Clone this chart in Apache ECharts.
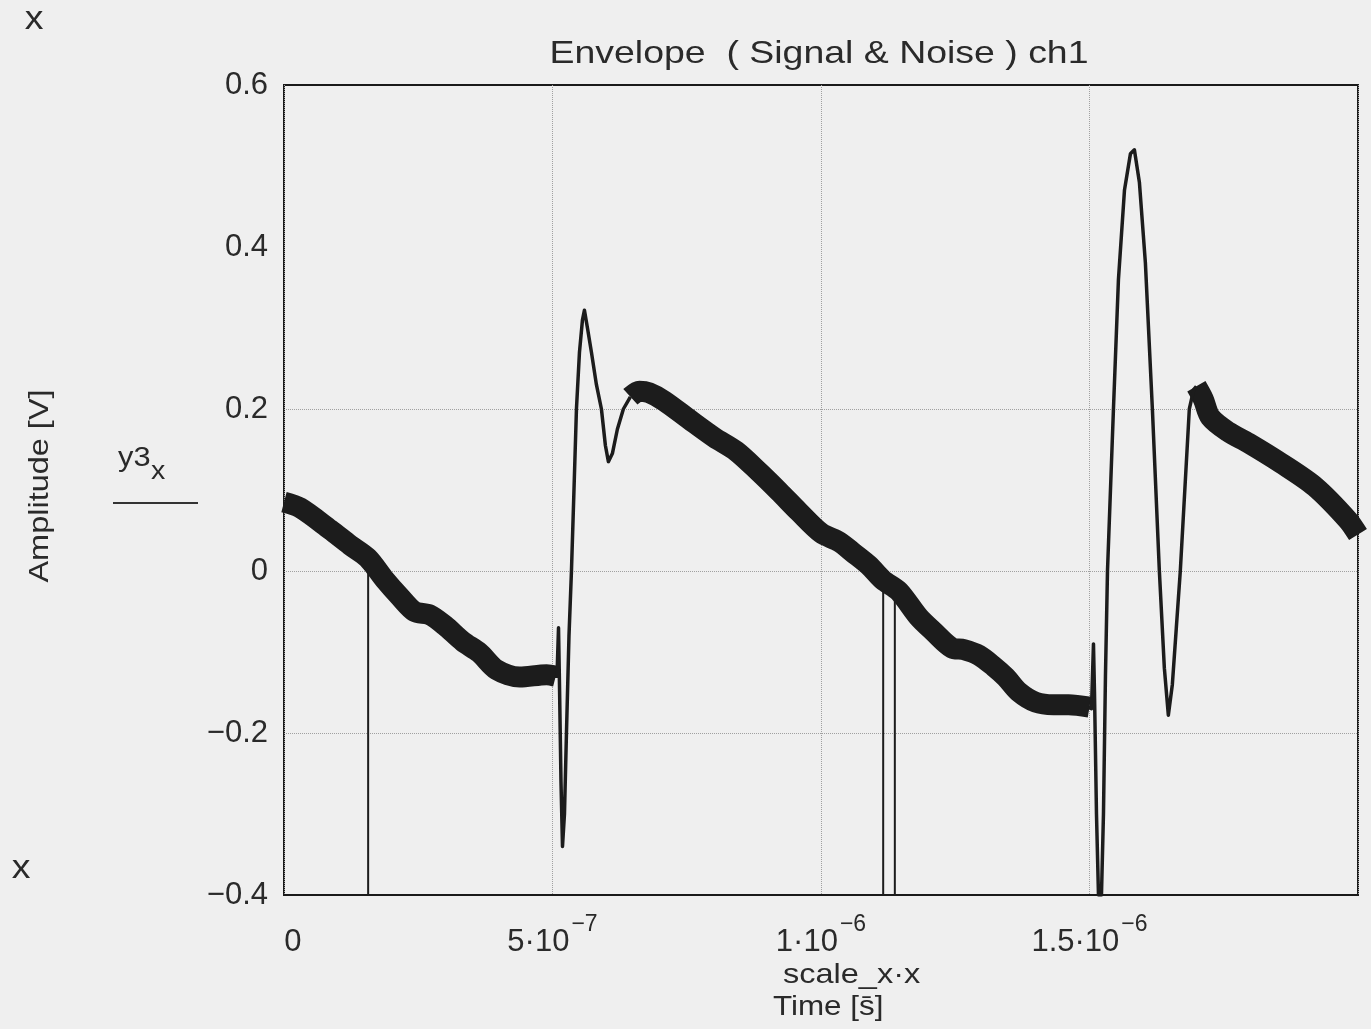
<!DOCTYPE html>
<html>
<head>
<meta charset="utf-8">
<title>Envelope ch1</title>
<script src="https://cdn.jsdelivr.net/npm/echarts/dist/echarts.min.js"></script>
<style>
html,body{margin:0;padding:0;background:#efefef;}
#main{width:1371px;height:1029px;}
</style>
</head>
<body>
<div id="main"></div>
<script>
// time in ns, amplitude in V
// noisy parts of the trace (drawn as a thick band)
var seg1_t = [0, 30, 86, 123, 156, 188, 216, 243, 271, 299, 333, 364, 396, 439, 489, 506];
var seg1_v = [0.085, 0.078, 0.051, 0.032, 0.016, -0.011, -0.032, -0.05, -0.054, -0.067, -0.087, -0.101, -0.122, -0.131, -0.128, -0.13];

var seg2_t = [645, 662, 680, 708, 755, 801, 842, 885, 922, 959, 1000, 1034, 1061, 1089, 1115, 1145, 1182, 1210, 1244, 1266, 1294, 1322, 1344, 1368, 1400, 1433, 1461, 1500];
var seg2_v = [0.215, 0.222, 0.22, 0.21, 0.187, 0.165, 0.148, 0.122, 0.098, 0.073, 0.047, 0.036, 0.022, 0.007, -0.011, -0.025, -0.057, -0.075, -0.095, -0.097, -0.104, -0.118, -0.131, -0.149, -0.162, -0.165, -0.165, -0.168];

var seg3_t = [1699, 1712, 1725, 1758, 1796, 1857, 1920, 1981, 2000];
var seg3_v = [0.228, 0.212, 0.19, 0.172, 0.158, 0.133, 0.104, 0.063, 0.045];

// fast transients (thin line)
var ev1_t = [504, 508.4, 511.2, 513, 515.8, 518.6, 522.3, 526, 530.7, 535.3, 540, 544.6, 550.2, 555.8, 559.5, 565.1, 572.5, 581.8, 591.1, 598.5, 604.1, 611.5, 620.8, 632, 645];
var ev1_v = [-0.13, -0.13, -0.07, -0.14, -0.26, -0.34, -0.3, -0.2, -0.08, 0, 0.1, 0.2, 0.27, 0.31, 0.322, 0.3, 0.27, 0.23, 0.2, 0.155, 0.135, 0.145, 0.175, 0.2, 0.215];

var ev2_t = [1498, 1503.7, 1507.4, 1509.3, 1513, 1516.7, 1522.3, 1526, 1529.7, 1533.5, 1544.6, 1553.9, 1565.1, 1576.2, 1583.6, 1592.9, 1604.1, 1617.1, 1630.1, 1639.4, 1646.8, 1654.3, 1661.7, 1669.1, 1685.9, 1694, 1699];
var ev2_v = [-0.168, -0.17, -0.09, -0.15, -0.3, -0.4, -0.4, -0.3, -0.13, 0, 0.2, 0.36, 0.47, 0.515, 0.52, 0.48, 0.38, 0.2, 0, -0.12, -0.178, -0.14, -0.07, 0, 0.2, 0.224, 0.228];

// single-sample dropouts down to the bottom of the range
var drop_t = [156.7, 1115.8, 1137.5];
var drop_top = [0.016, -0.011, -0.022];
var drop_bottom = -0.4;

var x_ticks = [0, 500, 1000, 1500];
var x_base = ['0', '5\u00b710', '1\u00b710', '1.5\u00b710'];
var x_exp = ['', '\u22127', '\u22126', '\u22126'];

var ink = '#1c1c1c';
var txt = '#2a2a2a';
var font = 'Liberation Sans, Arial, sans-serif';

function pairs(t, v){
	var out = [];
	for(var i=0;i<t.length;i++){
		out.push([t[i], v[i]]);
	}
	return out;
}

var series = [];
// noisy band
[[seg1_t,seg1_v],[seg2_t,seg2_v],[seg3_t,seg3_v]].forEach(function(s){
	series.push({
		type:'line', data:pairs(s[0],s[1]), showSymbol:false, clip:true, smooth:0.3,
		lineStyle:{color:ink, width:21, join:'round', cap:'butt'}, z:3
	});
});
// transients
[[ev1_t,ev1_v],[ev2_t,ev2_v]].forEach(function(s){
	series.push({
		type:'line', data:pairs(s[0],s[1]), showSymbol:false, clip:true,
		lineStyle:{color:ink, width:3.5, join:'round'}, z:3
	});
});
// dropouts
for(var i=0;i<drop_t.length;i++){
	series.push({
		type:'line', data:[[drop_t[i], drop_top[i]],[drop_t[i], drop_bottom]], showSymbol:false, clip:true,
		lineStyle:{color:ink, width:2}, z:2
	});
}

function label(str, x, y, size, opts){
	opts = opts || {};
	return {
		type:'text', x:x, y:y, rotation:opts.rot || 0, scaleX:opts.sx || 1,
		style:{text:str, fill:txt, font:size+'px '+font, textAlign:opts.align || 'center', textVerticalAlign:'middle'}
	};
}

var chart = echarts.init(document.getElementById('main'));
chart.setOption({
	animation:false,
	backgroundColor:'#efefef',
	grid:{left:284, right:13, top:85, bottom:134, show:true, borderColor:'#1a1a1a', borderWidth:2, backgroundColor:'transparent'},
	xAxis:{
		type:'value', min:0, max:2000, interval:500,
		axisLine:{show:false}, axisTick:{show:false},
		splitLine:{show:true, lineStyle:{color:'#a0a0a0', type:'dotted', width:1}},
		axisLabel:{
			margin:18, color:txt, fontFamily:font,
			formatter:function(v){
				var k = x_ticks.indexOf(v);
				if(k<0) return '';
				if(k===0) return '{z|0}{s| }';
				return '{b|'+x_base[k]+'}{s|'+x_exp[k]+'}';
			},
			rich:{
				z:{fontSize:31, fontFamily:font, color:txt, padding:[0,0,0,26], verticalAlign:'bottom'},
				b:{fontSize:31, fontFamily:font, color:txt, verticalAlign:'bottom'},
				s:{fontSize:23, fontFamily:font, color:txt, padding:[0,0,22,2], verticalAlign:'bottom'}
			}
		}
	},
	yAxis:{
		type:'value', min:-0.4, max:0.6, interval:0.2,
		axisLine:{show:false}, axisTick:{show:false},
		splitLine:{show:true, lineStyle:{color:['rgba(0,0,0,0)','#a0a0a0','#a0a0a0','#a0a0a0','rgba(0,0,0,0)','rgba(0,0,0,0)'], type:'dotted', width:1}},
		axisLabel:{
			margin:16, color:txt, fontSize:31, fontFamily:font,
			formatter:function(v){
				if(Math.abs(v)<1e-9) return '0';
				return (v<0?'\u2212':'')+Math.abs(v).toFixed(1);
			}
		}
	},
	graphic:[
		label('Envelope  ( Signal & Noise ) ch1', 819, 54, 32, {sx:1.17}),
		label('Amplitude [V]', 40, 486, 28, {rot:Math.PI/2, sx:1.16}),
		label('y3', 118, 458, 28, {align:'left', sx:1.1}),
		label('x', 151, 472, 26, {align:'left', sx:1.1}),
		{type:'line', shape:{x1:113, y1:503, x2:198, y2:503}, style:{stroke:'#333', lineWidth:2}},
		label('x', 34, 20, 34, {sx:1.1}),
		label('x', 21, 869, 34, {sx:1.1}),
		label('scale_x\u00b7x', 783, 975, 28, {align:'left', sx:1.16}),
		label('Time [s\u0304]', 773, 1007, 28, {align:'left', sx:1.12})
	],
	series:series
});
</script>
</body>
</html>
